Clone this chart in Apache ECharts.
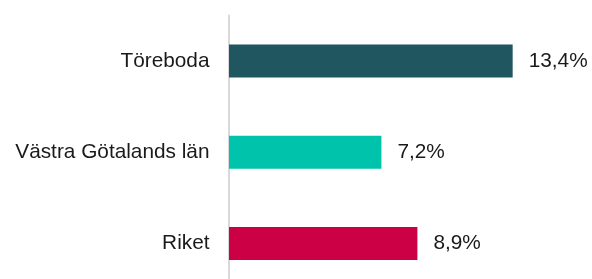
<!DOCTYPE html>
<html>
<head>
<meta charset="utf-8">
<script src="https://cdn.jsdelivr.net/npm/echarts@6/dist/echarts.min.js"></script>
<style>html,body{margin:0;padding:0;background:#fff;overflow:hidden}#c{width:592px;height:290px}</style>
</head>
<body>
<div id="c"></div>
<script>
const categories = ["Töreboda", "Västra Götalands län", "Riket"];
const values = [13.4, 7.2, 8.9];
const colors = ["#20565F", "#00C3AB", "#CC0044"];

const chart = echarts.init(document.getElementById('c'), null, {renderer: 'canvas'});
chart.setOption({
  animation: false,
  backgroundColor: '#ffffff',
  grid: {left: 229, top: 15.4, width: 338.7, height: 273.6},
  xAxis: {
    type: 'value', min: 0, max: 16, show: false
  },
  yAxis: {
    type: 'category',
    inverse: true,
    data: categories,
    axisLine: {show: true, lineStyle: {color: '#d9d9d9', width: 2}},
    axisTick: {show: false},
    axisLabel: {
      margin: 19.5,
      fontFamily: 'Liberation Sans, Arial, sans-serif',
      fontSize: 20.8,
      color: '#1a1a1a'
    }
  },
  series: [{
    type: 'bar',
    data: values.map((v, i) => ({value: v, itemStyle: {color: colors[i]}})),
    barWidth: 33,
    label: {
      show: true,
      position: 'right',
      distance: 16,
      fontFamily: 'Liberation Sans, Arial, sans-serif',
      fontSize: 20.8,
      color: '#1a1a1a',
      formatter: p => p.value.toFixed(1).replace('.', ',') + '%'
    }
  }]
});
</script>
</body>
</html>
